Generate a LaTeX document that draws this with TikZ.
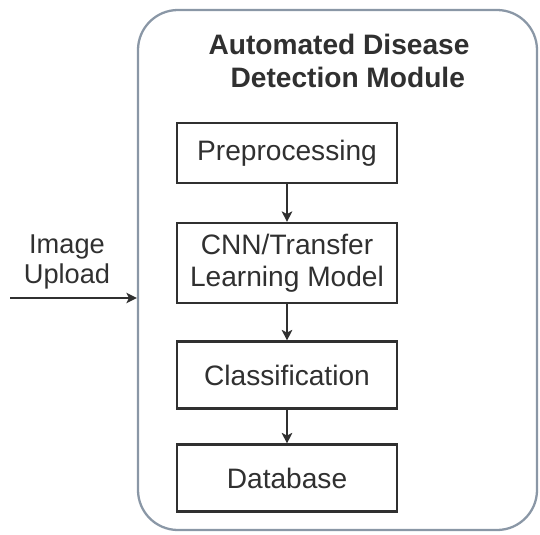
\documentclass[tikz,border=0pt]{standalone}
\usepackage{fontspec}
\setmainfont{Liberation Sans}
\usetikzlibrary{positioning,arrows.meta}
\definecolor{frameBlue}{HTML}{8A97A6}
\definecolor{inkGray}{HTML}{303030}
\begin{document}
\begin{tikzpicture}
            [box/.style={rectangle, draw=inkGray, line width=1.2pt, minimum width=4.4cm, text=inkGray, font=\fontsize{16}{18.5}\selectfont, align=center},
        module/.style={rectangle, draw=frameBlue, line width=1.3pt, rounded corners=0.8cm, minimum width=7.98cm, minimum height=10.4cm},
        flow/.style={line width=0.9pt, draw=inkGray, -{Stealth[length=6pt,width=6pt,inset=1.5pt]}}]
            \useasboundingbox (0,0) rectangle (10.8,-10.68);
            \node[module] (M) at (6.75,-5.4) {};
            \node[font=\fontsize{16}{18.3}\selectfont\bfseries, text=inkGray, align=center] (T) at (6.78,-1.22) {Automated Disease\\\hspace*{0.35cm}Detection Module};
            
            \node[box, minimum height=1.2cm] (P) at (5.74,-3.06) {Preprocessing};
            \node[box, minimum height=1.6cm] (C) at (5.74,-5.26) {CNN/Transfer\\Learning Model};
            \node[box, minimum height=1.34cm] (K) at (5.74,-7.5) {Classification};
            \node[box, minimum height=1.34cm] (D) at (5.74,-9.56) {Database};
            
            \node[text=inkGray, font=\fontsize{15.5}{16.8}\selectfont, align=center] (U) at (1.34,-5.24) {Image\\Upload};
            \coordinate (in) at (0.2,-5.96);
            
            \draw[flow] (P) -- (C);
            \draw[flow] (C) -- (K);
            \draw[flow] (K) -- (D);
            \draw[flow] (in) -- (M.west |- in);
        \end{tikzpicture}
\end{document}
